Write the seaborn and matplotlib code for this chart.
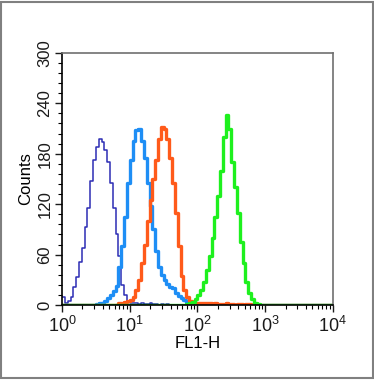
import numpy as np
import pandas as pd
import seaborn as sns
import matplotlib.pyplot as plt
from matplotlib.ticker import MultipleLocator, LogLocator, NullFormatter

# FL1-H histogram, 96 log channels over 4 decades (24 per decade)
n_bins = 96
channels = 10 ** ((np.arange(n_bins) + 0.5) / 24)

# counts per channel, each series given from its first channel on
navy_start = 0
navy_counts = [10, 3, 5, 10, 21, 34, 51, 68, 93, 116, 148, 172, 188, 197, 194,
               184, 170, 145, 115, 85, 58, 24, 12, 5, 3, 2, 2, 1, 2, 1, 1, 2,
               1, 1, 0, 1, 0, 1]
sky_start = 12
sky_counts = [1, 2, 3, 5, 8, 12, 17, 23, 45, 70, 105, 145, 172, 195, 208, 209,
              195, 175, 145, 118, 90, 64, 45, 36, 30, 25, 22, 20, 15, 11, 8, 6,
              4, 3, 2, 2, 1, 1]
orange_start = 20
orange_counts = [2, 3, 4, 5, 6, 10, 18, 30, 50, 72, 100, 125, 150, 172, 198,
                 212, 210, 198, 175, 145, 110, 70, 35, 18, 10, 5, 4, 3, 3, 2,
                 2, 2, 2, 1, 2, 1, 1, 1, 2, 1, 1, 0, 1, 1, 0, 1, 1]
green_start = 44
green_counts = [1, 2, 4, 7, 12, 18, 28, 42, 58, 80, 105, 130, 160, 200, 226,
                210, 170, 140, 110, 75, 50, 28, 15, 7, 3, 1]

series = [
    ("navy", navy_start, navy_counts, "#2c2cb4", 1.1),
    ("sky", sky_start, sky_counts, "#1e8ef5", 2.4),
    ("orange", orange_start, orange_counts, "#ff5a1a", 2.4),
    ("green", green_start, green_counts, "#1ef01e", 2.4),
]

plt.rcParams["font.family"] = ["Liberation Sans", "DejaVu Sans"]
plt.rcParams["mathtext.fontset"] = "custom"
plt.rcParams["mathtext.rm"] = "Liberation Sans"
plt.rcParams["mathtext.default"] = "regular"

fig = plt.figure(figsize=(3.74, 3.80), dpi=100)
ax = fig.add_axes([0.166, 0.197, 0.724, 0.664])

for name, start, counts, color, lw in series:
    w = np.zeros(n_bins)
    w[start:start + len(counts)] = counts
    df = pd.DataFrame({"fl1": channels, "count": w})
    sns.histplot(data=df, x="fl1", weights="count", bins=n_bins, binrange=(0, 4),
                 log_scale=True, element="step", fill=False, color=color,
                 linewidth=lw, ax=ax)

ax.set_xlim(1, 1e4)
ax.set_ylim(0, 300)
ax.yaxis.set_major_locator(MultipleLocator(60))
ax.yaxis.set_minor_locator(MultipleLocator(12))
ax.xaxis.set_major_locator(LogLocator(base=10, numticks=10))
ax.xaxis.set_minor_locator(LogLocator(base=10, subs=np.arange(2, 10), numticks=20))
ax.xaxis.set_minor_formatter(NullFormatter())

ax.tick_params(axis="both", which="major", direction="out", length=5, width=1,
               colors="#1a1a1a")
ax.tick_params(axis="y", which="major", labelsize=12, pad=2)
ax.tick_params(axis="x", which="major", labelsize=13, pad=3)
ax.tick_params(axis="both", which="minor", direction="out", length=3, width=0.8)
for lab in ax.get_yticklabels():
    lab.set_rotation(90)
    lab.set_va("center")

for side in ["left", "bottom"]:
    ax.spines[side].set_color("black")
    ax.spines[side].set_linewidth(1.2)
for side in ["top", "right"]:
    ax.spines[side].set_color("#707070")
    ax.spines[side].set_linewidth(1.2)

ax.set_xlabel("FL1-H", fontsize=12, labelpad=0)
ax.set_ylabel("Counts", fontsize=12, labelpad=3)

fig.patches.append(plt.Rectangle((0.004, 0.004), 0.992, 0.992, transform=fig.transFigure,
                                 fill=False, edgecolor="#808080", linewidth=1.5))

fig.savefig("out.png", dpi=100)
